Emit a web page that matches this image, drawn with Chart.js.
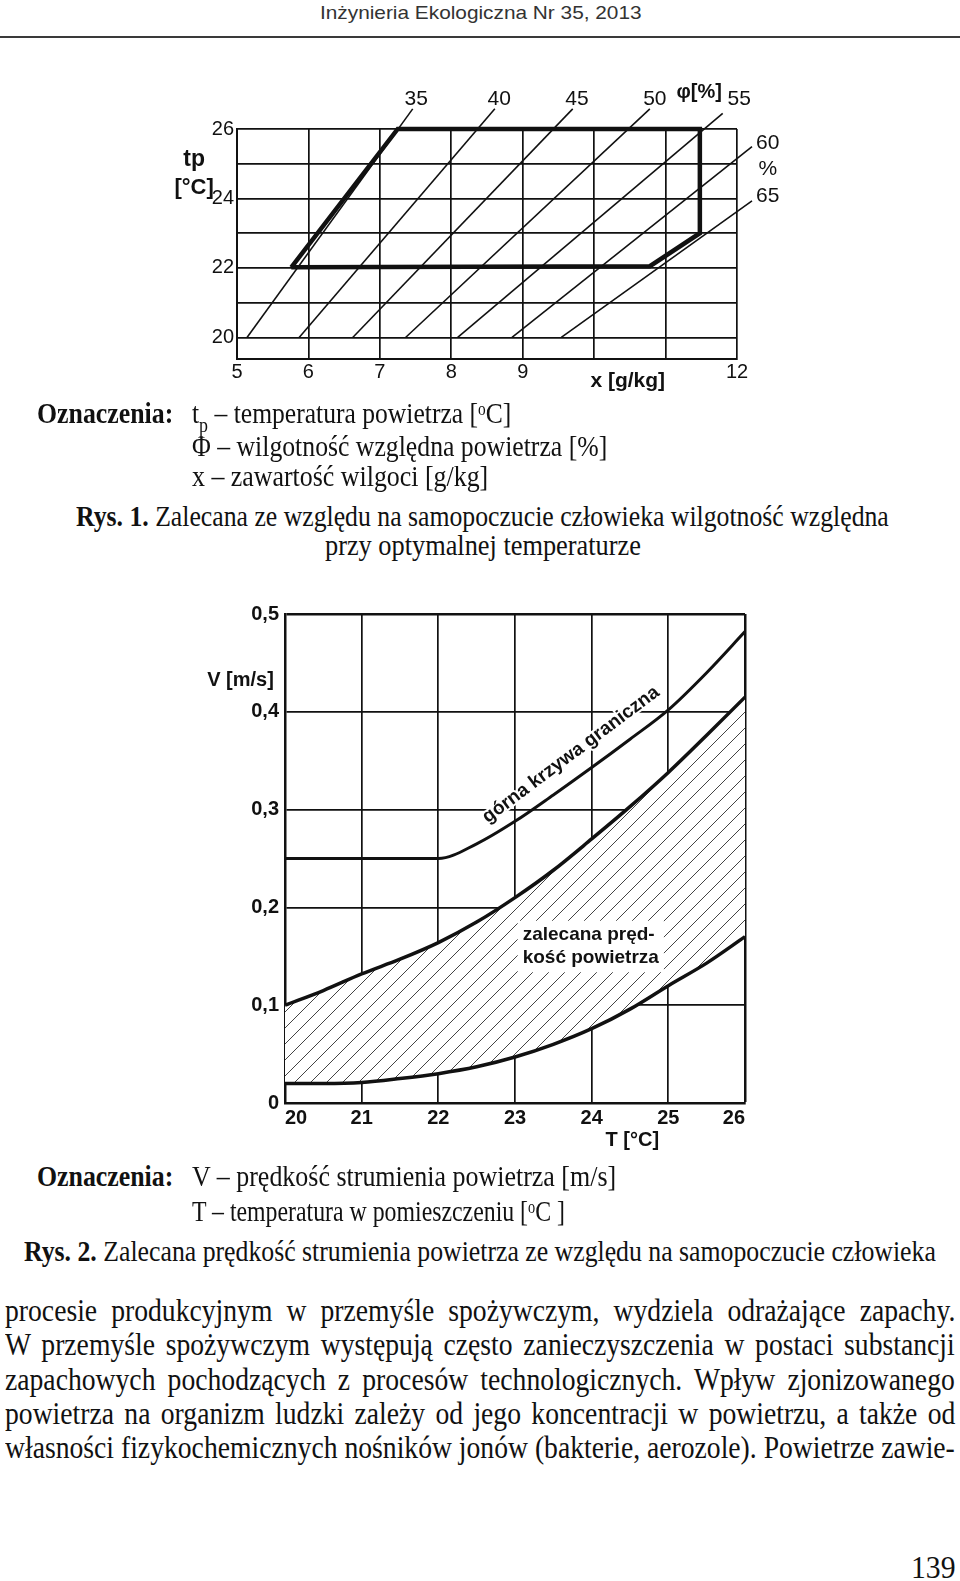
<!DOCTYPE html>
<html>
<head>
<meta charset="utf-8">
<script src="https://cdn.jsdelivr.net/npm/chart.js@4.4.1/dist/chart.umd.min.js"></script>
<style>
html, body { margin: 0; padding: 0; background: #fff; }
body { width: 960px; height: 1581px; position: relative; overflow: hidden; }
.t { position: absolute; white-space: nowrap; transform-origin: 0 0; line-height: 1; color: #111; }
.sub { font-size: 0.7em; position: relative; top: 0.4em; }
.sup { font-size: 0.6em; position: relative; top: -0.45em; }
#hdr-line { position: absolute; left: 0; top: 36px; width: 960px; height: 2px; background: #3a3a3a; }
.box { position: absolute; }
</style>
</head>
<body>
<div id="hdr-line"></div>
<div class="box" style="left:160px;top:60px"><canvas id="rys1" width="660" height="340"></canvas></div>
<div class="box" style="left:200px;top:585px"><canvas id="rys2" width="560" height="575"></canvas></div>
<script>
// ---- Rys. 1 : x [g/kg] vs tp [C], lines of constant relative humidity
const rhLabels = ['35', '40', '45', '50', '55', '60', '65']
const rhStartX = [5.14, 5.87, 6.62, 7.36, 8.09, 8.85, 9.54]      // x where each line meets tp = 20
const rhEndX = [7.46, 8.61, 9.70, 10.78, 11.80, 12.21, 12.21]
const rhEndT = [26.58, 26.58, 26.58, 26.58, 26.45, 25.49, 23.93]
const zoneX = [5.76, 7.25, 11.48, 11.48, 10.78, 5.76]            // recommended zone (thick outline)
const zoneT = [22.02, 26, 26, 23.0, 22.05, 22.02]
const xTicks1 = [5, 6, 7, 8, 9, 10, 11, 12]
const xTickLabels1 = ['5', '6', '7', '8', '9', '', '', '12']
const tTicks1 = [20, 21, 22, 23, 24, 25, 26]
const tTickLabels1 = ['20', '', '22', '', '24', '', '26']

// ---- Rys. 2 : V [m/s] vs T [C]
const tempT = [20, 20.5, 21, 21.5, 22, 22.5, 23, 23.5, 24, 24.5, 25, 25.5, 26]
const vUpper = [0.25, 0.25, 0.25, 0.25, 0.25, 0.265, 0.288, 0.315, 0.343, 0.372, 0.402, 0.44, 0.482]
const vRecHigh = [0.10, 0.115, 0.132, 0.147, 0.164, 0.185, 0.21, 0.238, 0.27, 0.303, 0.338, 0.376, 0.415]
const vRecLow = [0.02, 0.02, 0.021, 0.025, 0.03, 0.037, 0.047, 0.06, 0.076, 0.096, 0.12, 0.143, 0.17]
const tTicks2 = [20, 21, 22, 23, 24, 25, 26]
const vTicks2 = [0, 0.1, 0.2, 0.3, 0.4, 0.5]
const vTickLabels2 = ['0', '0,1', '0,2', '0,3', '0,4', '0,5']

const SERIF = '"Liberation Serif", "Times New Roman", serif'
const SANS = '"Liberation Sans", Arial, sans-serif'

// ---------- page text ----------
function place(html, o) {
    var el = document.createElement('div')
    el.className = 't'
    el.innerHTML = html
    el.style.fontFamily = o.family || SERIF
    el.style.fontSize = o.size + 'px'
    if (o.color) el.style.color = o.color
    document.body.appendChild(el)
    var w = el.offsetWidth
    var sx = o.sx || (o.right - o.left) / w
    el.style.left = o.left + 'px'
    el.style.top = (o.cy - o.size * (o.k || 0.56)) + 'px'
    el.style.transform = 'scaleX(' + sx + ')'
    return el
}

place('Inżynieria Ekologiczna Nr 35, 2013', {left: 320, right: 642, cy: 13, size: 19, family: SANS, color: '#333', k: 0.55})

var textLines = [
    ['<b>Oznaczenia:</b>', 37, 173, 415],
    ['t<span class="sub">p</span> – temperatura powietrza [<span class="sup">o</span>C]', 192, 511, 415],
    ['Φ – wilgotność względna powietrza [%]', 192, 607, 448],
    ['x – zawartość wilgoci [g/kg]', 192, 488, 478],
    ['<b>Rys. 1.</b> Zalecana ze względu na samopoczucie człowieka wilgotność względna', 76, 889, 518],
    ['przy optymalnej temperaturze', 325, 641, 547],
    ['<b>Oznaczenia:</b>', 37, 173, 1178],
    ['V – prędkość strumienia powietrza [m/s]', 192, 616, 1178],
    ['T – temperatura w pomieszczeniu [<span class="sup">o</span>C ]', 192, 565, 1213],
    ['<b>Rys. 2.</b> Zalecana prędkość strumienia powietrza ze względu na samopoczucie człowieka', 24, 936, 1253]
]
textLines.forEach(function (l) {
    place(l[0], {left: l[1], right: l[2], cy: l[3], size: 30})
})

// body paragraph: same condensing for every line, justified through word spacing
var body = [
    'procesie produkcyjnym w przemyśle spożywczym, wydziela odrażające zapachy.',
    'W przemyśle spożywczym występują często zanieczyszczenia w postaci substancji',
    'zapachowych pochodzących z procesów technologicznych. Wpływ zjonizowanego',
    'powietrza na organizm ludzki zależy od jego koncentracji w powietrzu, a także od',
    'własności fizykochemicznych nośników jonów (bakterie, aerozole). Powietrze zawie-'
]
var bodyY = [1312, 1346, 1381, 1415, 1449]
var bodyEls = body.map(function (s, i) {
    return place(s, {left: 5, right: 955, cy: bodyY[i], size: 31})
})
var widths = bodyEls.map(function (el) { return el.offsetWidth })
var squeeze = Math.min.apply(null, widths.map(function (w) { return 950 / w }))
bodyEls.forEach(function (el, i) {
    var spaces = body[i].split(' ').length - 1
    el.style.wordSpacing = ((950 / squeeze - widths[i]) / spaces) + 'px'
    el.style.transform = 'scaleX(' + squeeze + ')'
})
place('139', {left: 911, right: 956, cy: 1569, size: 31})

// ---------- Rys. 1 ----------
Chart.defaults.font.family = SANS
Chart.defaults.color = '#111'

var notes1 = [
    {text: '35', x: 7.51, y: 26.87}, {text: '40', x: 8.67, y: 26.87},
    {text: '45', x: 9.76, y: 26.87}, {text: '50', x: 10.85, y: 26.87},
    {text: '55', x: 12.03, y: 26.87}, {text: '60', x: 12.43, y: 25.6},
    {text: '%', x: 12.43, y: 24.84}, {text: '65', x: 12.43, y: 24.06},
    {text: 'φ[%]', x: 11.47, y: 27.04, bold: true, size: 20},
    {text: 'tp', x: 4.40, y: 25.13, bold: true, size: 23},
    {text: '[°C]', x: 4.40, y: 24.29, bold: true, size: 22},
    {text: 'x [g/kg]', x: 10.47, y: 18.74, bold: true, size: 21}
]

var notesPlugin1 = {
    id: 'notes1',
    afterDraw: function (chart) {
        var ctx = chart.ctx, sx = chart.scales.x, sy = chart.scales.y
        ctx.save()
        ctx.fillStyle = '#111'
        ctx.textAlign = 'center'
        ctx.textBaseline = 'middle'
        notes1.forEach(function (n) {
            ctx.font = (n.bold ? 'bold ' : '') + (n.size || 21) + 'px ' + SANS
            ctx.fillText(n.text, sx.getPixelForValue(n.x), sy.getPixelForValue(n.y))
        })
        ctx.restore()
    }
}

var sets1 = rhLabels.map(function (lab, i) {
    return {
        label: 'φ ' + lab + '%',
        data: [{x: rhStartX[i], y: 20}, {x: rhEndX[i], y: rhEndT[i]}],
        showLine: true, borderColor: '#111', borderWidth: 1.6,
        pointRadius: 0, clip: false
    }
})
sets1.push({
    label: 'zalecana strefa',
    data: zoneX.map(function (x, i) { return {x: x, y: zoneT[i]} }),
    showLine: true, borderColor: '#111', borderWidth: 4.5,
    borderJoinStyle: 'miter', pointRadius: 0, clip: false
})

new Chart(document.getElementById('rys1'), {
    type: 'scatter',
    data: {datasets: sets1},
    options: {
        responsive: false,
        animation: false,
        layout: {padding: {top: 69, right: 83, left: 0, bottom: 0}},
        plugins: {legend: {display: false}, tooltip: {enabled: false}},
        scales: {
            x: {
                type: 'linear', min: 5, max: 12,
                afterBuildTicks: function (s) { s.ticks = xTicks1.map(function (v) { return {value: v} }) },
                afterFit: function (s) { s.height = 41 },
                ticks: {
                    callback: function (v, i) { return xTickLabels1[i] },
                    font: {size: 20}, padding: 1, maxRotation: 0, autoSkip: false
                },
                grid: {color: '#111', lineWidth: 1.7, drawTicks: false},
                border: {color: '#111', width: 2}
            },
            y: {
                min: 19.38, max: 26,
                afterBuildTicks: function (s) { s.ticks = tTicks1.map(function (v) { return {value: v} }) },
                afterFit: function (s) { s.width = 77 },
                ticks: {
                    callback: function (v, i) { return tTickLabels1[i] },
                    font: {size: 20}, padding: 3, autoSkip: false
                },
                grid: {color: '#111', lineWidth: 1.7, drawTicks: false},
                border: {color: '#111', width: 2}
            }
        }
    },
    plugins: [notesPlugin1]
})

// ---------- Rys. 2 ----------
function hatchPattern() {
    var c = document.createElement('canvas')
    c.width = 16
    c.height = 16
    var g = c.getContext('2d')
    g.fillStyle = '#fff'
    g.fillRect(0, 0, 16, 16)
    g.strokeStyle = '#444'
    g.lineWidth = 1
    g.beginPath()
    g.moveTo(-2, 18); g.lineTo(18, -2)
    g.moveTo(-2, 2); g.lineTo(2, -2)
    g.moveTo(14, 18); g.lineTo(18, 14)
    g.stroke()
    return g.createPattern(c, 'repeat')
}

var notesPlugin2 = {
    id: 'notes2',
    afterDraw: function (chart) {
        var ctx = chart.ctx, sx = chart.scales.x, sy = chart.scales.y
        ctx.save()
        ctx.fillStyle = '#111'
        ctx.textBaseline = 'middle'

        // two-line label over the hatched band, on a white patch
        ctx.font = 'bold 19px ' + SANS
        var l1 = 'zalecana pręd-', l2 = 'kość powietrza'
        var px = sx.getPixelForValue(23.1)
        var y1 = sy.getPixelForValue(0.172), y2 = sy.getPixelForValue(0.148)
        var w = Math.max(ctx.measureText(l1).width, ctx.measureText(l2).width)
        ctx.fillStyle = '#fff'
        ctx.fillRect(px - 5, y1 - 14, w + 10, y2 - y1 + 28)
        ctx.fillStyle = '#111'
        ctx.textAlign = 'left'
        ctx.fillText(l1, px, y1)
        ctx.fillText(l2, px, y2)

        // curve label, rotated along the upper boundary
        ctx.save()
        ctx.translate(sx.getPixelForValue(23.73), sy.getPixelForValue(0.356))
        ctx.rotate(-36.8 * Math.PI / 180)
        ctx.font = 'bold 19px ' + SANS
        ctx.textAlign = 'center'
        ctx.lineWidth = 4
        ctx.strokeStyle = '#fff'
        ctx.strokeText('górna krzywa graniczna', 0, 0)
        ctx.fillText('górna krzywa graniczna', 0, 0)
        ctx.restore()

        ctx.font = 'bold 20px ' + SANS
        ctx.textAlign = 'center'
        ctx.fillText('V [m/s]', sx.getPixelForValue(19.42), sy.getPixelForValue(0.4325))
        ctx.fillText('T [°C]', sx.getPixelForValue(24.53), sy.getPixelForValue(-0.038))
        ctx.restore()
    }
}

function pts(ys) {
    return tempT.map(function (t, i) { return {x: t, y: ys[i]} })
}

new Chart(document.getElementById('rys2'), {
    type: 'line',
    data: {
        datasets: [
            {label: 'dolna granica', data: pts(vRecLow), borderColor: '#111', borderWidth: 3.5,
             pointRadius: 0, cubicInterpolationMode: 'monotone', fill: false},
            {label: 'zalecana prędkość powietrza', data: pts(vRecHigh), borderColor: '#111', borderWidth: 3.5,
             pointRadius: 0, cubicInterpolationMode: 'monotone', fill: '-1', backgroundColor: hatchPattern()},
            {label: 'górna krzywa graniczna', data: pts(vUpper), borderColor: '#111', borderWidth: 3,
             pointRadius: 0, cubicInterpolationMode: 'monotone', fill: false}
        ]
    },
    options: {
        responsive: false,
        animation: false,
        layout: {padding: {top: 29, right: 15, left: 0, bottom: 0}},
        plugins: {legend: {display: false}, tooltip: {enabled: false}},
        scales: {
            x: {
                type: 'linear', min: 20, max: 26,
                afterBuildTicks: function (s) { s.ticks = tTicks2.map(function (v) { return {value: v} }) },
                afterFit: function (s) { s.height = 57 },
                ticks: {
                    font: {size: 20, weight: 'bold'}, padding: 3, align: 'inner',
                    maxRotation: 0, autoSkip: false
                },
                grid: {
                    color: '#111', drawTicks: false,
                    lineWidth: function (c) { return c.tick && c.tick.value === 26 ? 2.5 : 1.7 }
                },
                border: {color: '#111', width: 2.5}
            },
            y: {
                min: 0, max: 0.5,
                afterBuildTicks: function (s) { s.ticks = vTicks2.map(function (v) { return {value: v} }) },
                afterFit: function (s) { s.width = 85 },
                ticks: {
                    callback: function (v, i) { return vTickLabels2[i] },
                    font: {size: 20, weight: 'bold'}, padding: 6, autoSkip: false
                },
                grid: {
                    color: '#111', drawTicks: false,
                    lineWidth: function (c) { return c.tick && c.tick.value === 0.5 ? 2.5 : 1.7 }
                },
                border: {color: '#111', width: 2.5}
            }
        }
    },
    plugins: [notesPlugin2]
})
</script>
</body>
</html>
